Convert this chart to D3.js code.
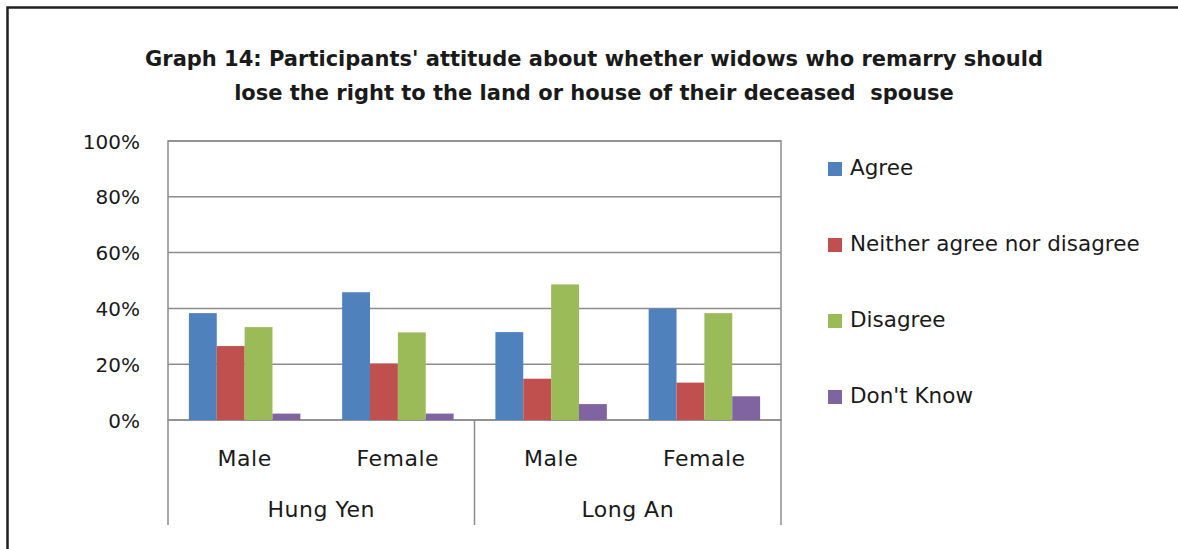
<!DOCTYPE html>
<html>
<head>
<meta charset="utf-8">
<script src="https://cdn.jsdelivr.net/npm/d3@7"></script>
<style>
  body { margin: 0; background: #fff; }
  text { font-family: "DejaVu Sans", sans-serif; fill: #1a1a1a; }
</style>
</head>
<body>
<div id="chart"></div>
<script>
// data
var regions = ["Hung Yen", "Long An"];
var genders = ["Male", "Female"];
var answers = ["Agree", "Neither agree nor disagree", "Disagree", "Don't Know"];
var agree    = [38.3, 45.8, 31.5, 39.9];
var neither  = [26.5, 20.2, 14.8, 13.4];
var disagree = [33.3, 31.4, 48.6, 38.3];
var dontKnow = [2.3, 2.3, 5.7, 8.5];
var yTicks = [0, 20, 40, 60, 80, 100];
var colors = ["#4F81BD", "#C0504D", "#9BBB59", "#8064A2"];

var svgWidth = 1178;
var svgHeight = 549;

var plot = { left: 168, top: 141, right: 781, bottom: 420 };

var svg = d3.select("#chart")
  .append("svg")
  .attr("width", svgWidth)
  .attr("height", svgHeight);

// outer frame (right and bottom edges fall outside the picture)
svg.append("rect")
  .attr("x", 7.5).attr("y", 7.5)
  .attr("width", 1200).attr("height", 600)
  .attr("fill", "none")
  .attr("stroke", "#1f1f1f")
  .attr("stroke-width", 2.5);

// title
var title = svg.append("text")
  .attr("text-anchor", "middle")
  .attr("font-weight", "bold")
  .attr("font-size", "21px")
  .style("white-space", "pre");
title.append("tspan").attr("x", 594).attr("y", 66)
  .text("Graph 14: Participants' attitude about whether widows who remarry should");
title.append("tspan").attr("x", 594).attr("y", 100)
  .text("lose the right to the land or house of their deceased  spouse");

// categories: each region x gender
var cats = [];
regions.forEach(function(r) {
  genders.forEach(function(g) { cats.push(r + "|" + g); });
});
var series = [agree, neither, disagree, dontKnow];

var x0 = d3.scaleBand()
  .domain(cats)
  .range([plot.left, plot.right])
  .paddingInner(0)
  .paddingOuter(0);

var x1 = d3.scaleBand()
  .domain(d3.range(answers.length))
  .range([0, x0.bandwidth()])
  .paddingOuter(0.75)
  .paddingInner(0);

var y = d3.scaleLinear()
  .domain([0, 100])
  .range([plot.bottom, plot.top]);

// gridlines
svg.append("g")
  .selectAll("line")
  .data(yTicks)
  .enter()
  .append("line")
  .attr("x1", plot.left).attr("x2", plot.right)
  .attr("y1", d => y(d)).attr("y2", d => y(d))
  .attr("stroke", "#8c8c8c")
  .attr("stroke-width", 1.5);

// y axis
var yAxis = svg.append("g")
  .attr("transform", `translate(${plot.left},0)`)
  .call(d3.axisLeft(y).tickValues(yTicks).tickSize(0).tickPadding(28).tickFormat(d => d + "%"));
yAxis.select(".domain").remove();
yAxis.selectAll("text")
  .attr("font-family", "DejaVu Sans")
  .attr("font-size", "20px")
  .attr("fill", "#2a2a2a")
  .attr("dy", "0.35em");

// plot border
svg.append("rect")
  .attr("x", plot.left).attr("y", plot.top)
  .attr("width", plot.right - plot.left)
  .attr("height", plot.bottom - plot.top)
  .attr("fill", "none")
  .attr("stroke", "#8c8c8c")
  .attr("stroke-width", 1.5);

// bars
var catGroups = svg.append("g")
  .selectAll("g")
  .data(cats)
  .enter()
  .append("g")
  .attr("transform", d => `translate(${x0(d)},0)`);

catGroups.selectAll("rect")
  .data((d, ci) => series.map((s, si) => ({ si: si, v: s[ci] })))
  .enter()
  .append("rect")
  .attr("x", d => x1(d.si))
  .attr("width", x1.bandwidth())
  .attr("y", d => y(d.v))
  .attr("height", d => y(0) - y(d.v))
  .attr("fill", d => colors[d.si]);

// category labels (gender)
svg.append("g")
  .selectAll("text")
  .data(cats)
  .enter()
  .append("text")
  .attr("x", d => x0(d) + x0.bandwidth() / 2)
  .attr("y", 466)
  .attr("text-anchor", "middle")
  .attr("font-size", "22px")
  .attr("letter-spacing", "0.5px")
  .text(d => d.split("|")[1]);

// region labels
var regionWidth = (plot.right - plot.left) / regions.length;
svg.append("g")
  .selectAll("text")
  .data(regions)
  .enter()
  .append("text")
  .attr("x", (d, i) => plot.left + regionWidth * (i + 0.5))
  .attr("y", 517)
  .attr("text-anchor", "middle")
  .attr("font-size", "22px")
  .attr("letter-spacing", "0.5px")
  .text(d => d);

// region separators
svg.append("g")
  .selectAll("line")
  .data(d3.range(regions.length + 1))
  .enter()
  .append("line")
  .attr("x1", i => plot.left + regionWidth * i)
  .attr("x2", i => plot.left + regionWidth * i)
  .attr("y1", plot.bottom)
  .attr("y2", 525)
  .attr("stroke", "#8c8c8c")
  .attr("stroke-width", 1.5);

// legend
var legend = svg.append("g")
  .selectAll("g")
  .data(answers)
  .enter()
  .append("g")
  .attr("transform", (d, i) => `translate(828,${175 + i * 76})`);

legend.append("rect")
  .attr("x", 0).attr("y", -13)
  .attr("width", 14).attr("height", 14)
  .attr("fill", (d, i) => colors[i]);

legend.append("text")
  .attr("x", 22).attr("y", 0)
  .attr("font-size", "21.5px")
  .text(d => d);
</script>
</body>
</html>
